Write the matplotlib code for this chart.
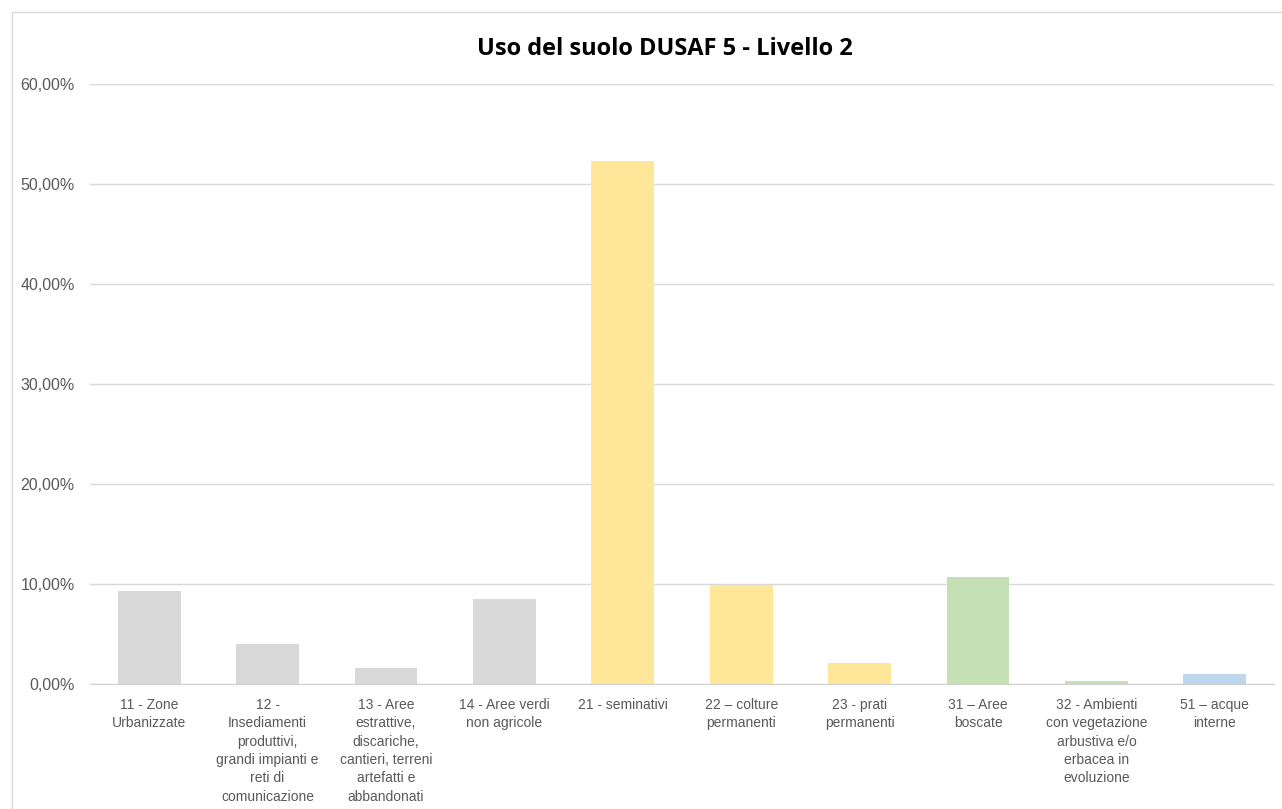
import matplotlib.pyplot as plt
from matplotlib.patches import Rectangle
from matplotlib.ticker import FuncFormatter
import numpy as np

categories = [
    "11 - Zone\nUrbanizzate",
    "12 -\nInsediamenti\nproduttivi,\ngrandi impianti e\nreti di\ncomunicazione",
    "13 - Aree\nestrattive,\ndiscariche,\ncantieri, terreni\nartefatti e\nabbandonati",
    "14 - Aree verdi\nnon agricole",
    "21 - seminativi",
    "22 \u2013 colture\npermanenti",
    "23 - prati\npermanenti",
    "31 \u2013 Aree\nboscate",
    "32 - Ambienti\ncon vegetazione\narbustiva e/o\nerbacea in\nevoluzione",
    "51 \u2013 acque\ninterne",
]
values = [9.3, 4.0, 1.6, 8.5, 52.3, 9.9, 2.1, 10.7, 0.3, 1.0]
colors = ["#D9D9D9", "#D9D9D9", "#D9D9D9", "#D9D9D9",
          "#FFE699", "#FFE699", "#FFE699",
          "#C5E0B4", "#C5E0B4", "#BDD7EE"]

fig = plt.figure(figsize=(12.82, 8.09), dpi=100)
# light frame around the chart
fig.patches.append(Rectangle((12 / 1282, -0.01), 1.1, (809 - 12) / 809 + 0.01,
                             transform=fig.transFigure, fill=False,
                             edgecolor="#D9D9D9", linewidth=1))

ax = fig.add_axes([90 / 1282, 1 - 684 / 809, (1274 - 90) / 1282, 600 / 809])
x = np.arange(len(categories))
ax.bar(x, values, width=0.53, color=colors, edgecolor="none", zorder=3)
ax.set_xlim(-0.5, len(categories) - 0.5)
ax.set_ylim(0, 60)
ax.set_yticks(np.arange(0, 61, 10))
ax.yaxis.set_major_formatter(FuncFormatter(lambda v, p: f"{v:.2f}%".replace(".", ",")))
ax.set_xticks(x)
ax.set_xticklabels(categories, fontsize=10, color="#595959",
                   family="Liberation Sans", linespacing=1.4, va="top")
for lbl in ax.get_yticklabels():
    lbl.set_fontsize(11.5)
    lbl.set_color("#595959")
    lbl.set_family("Liberation Sans")
ax.tick_params(axis="both", length=0)
ax.tick_params(axis="x", pad=10)
ax.tick_params(axis="y", pad=11)
ax.grid(True, axis="y", color="#D9D9D9", linewidth=1, zorder=0)
for s in ["top", "right", "left"]:
    ax.spines[s].set_visible(False)
ax.spines["bottom"].set_color("#D0D0D0")
ax.spines["bottom"].set_zorder(4)

fig.text(665 / 1282, 1 - 49 / 809, "Uso del suolo DUSAF 5 - Livello 2",
         ha="center", va="center", fontsize=17, fontweight="bold",
         family="Open Sans", color="#000000")

plt.savefig("out.png", dpi=100)
